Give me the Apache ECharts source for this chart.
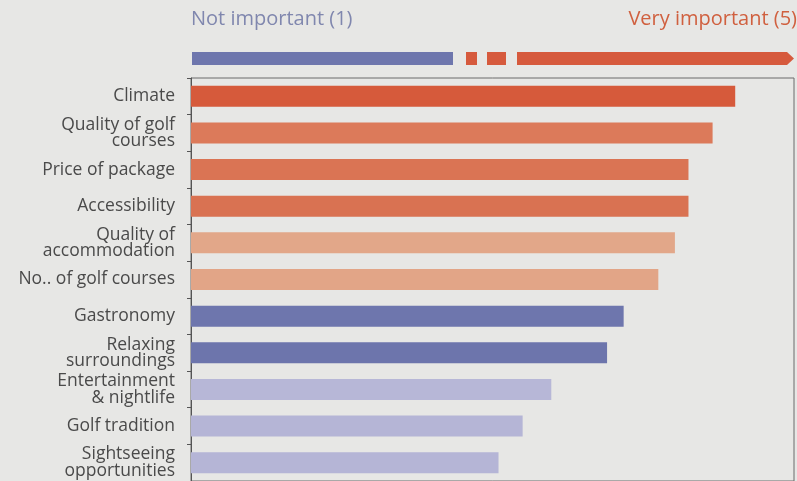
<!DOCTYPE html>
<html>
<head>
<meta charset="utf-8">
<script src="https://cdn.jsdelivr.net/npm/echarts@6/dist/echarts.min.js"></script>
<style>
html,body{margin:0;padding:0;background:#e7e7e5;}
#chart{width:797px;height:481px;}
</style>
</head>
<body>
<div id="chart"></div>
<script>
// Data
var categories = [
  'Climate',
  'Quality of golf\ncourses',
  'Price of package',
  'Accessibility',
  'Quality of\naccommodation',
  'No.. of golf courses',
  'Gastronomy',
  'Relaxing\nsurroundings',
  'Entertainment\n& nightlife',
  'Golf tradition',
  'Sightseeing\nopportunities'
];
var scores = [4.61, 4.46, 4.30, 4.30, 4.21, 4.10, 3.87, 3.76, 3.39, 3.20, 3.04];
var scaleLabels = ['Not important (1)', 'Very important (5)'];
var scaleMin = 1, scaleMax = 5;

// Styles (kept separate from data)
var barColors = ['#d65a3b', '#dc7a5a', '#da7454', '#d97252', '#e2a789', '#e2a587',
                 '#6e76ad', '#6d75ac', '#b7b7d7', '#b5b5d6', '#b5b5d6'];

var chart = echarts.init(document.getElementById('chart'));
var red = '#d65a3d', blue = '#6e76ad';

chart.setOption({
  backgroundColor: '#e7e7e5',
  animation: false,
  grid: {
    left: 191, right: 3, top: 78, height: 405,
    show: true, borderColor: '#6a6a6a', borderWidth: 1,
    backgroundColor: 'transparent', containLabel: false
  },
  xAxis: {
    type: 'value', min: scaleMin, max: scaleMax,
    axisLabel: { show: false }, axisTick: { show: false },
    axisLine: { show: false }, splitLine: { show: false }
  },
  yAxis: {
    type: 'category', inverse: true, data: categories,
    axisLine: { show: true, lineStyle: { color: '#555', width: 1 } },
    axisTick: { show: true, length: 4, lineStyle: { color: '#555' } },
    axisLabel: {
      margin: 16, fontSize: 17.5, lineHeight: 16.5, color: '#4a4a4a',
      fontFamily: 'Open Sans', align: 'right'
    }
  },
  series: [{
    type: 'bar',
    data: scores.map(function (v, i) {
      return { value: v, itemStyle: { color: barColors[i] } };
    }),
    barWidth: 21,
    clip: true,
    silent: true
  }],
  graphic: [
    { type: 'text', left: 191, top: 9,
      style: { text: scaleLabels[0], fill: '#8087ae', font: '20px "Open Sans"' } },
    { type: 'text', right: 0, top: 9,
      style: { text: scaleLabels[1], fill: '#d0603f', font: '20px "Open Sans"', textAlign: 'right' } },
    { type: 'rect', shape: { x: 192, y: 52, width: 261, height: 13 }, style: { fill: blue } },
    { type: 'rect', shape: { x: 466, y: 52, width: 11, height: 13 }, style: { fill: red } },
    { type: 'rect', shape: { x: 487, y: 52, width: 19, height: 13 }, style: { fill: red } },
    { type: 'polygon', shape: { points: [[517, 52], [787, 52], [794, 58.5], [787, 65], [517, 65]] },
      style: { fill: red } }
  ]
});
</script>
</body>
</html>
